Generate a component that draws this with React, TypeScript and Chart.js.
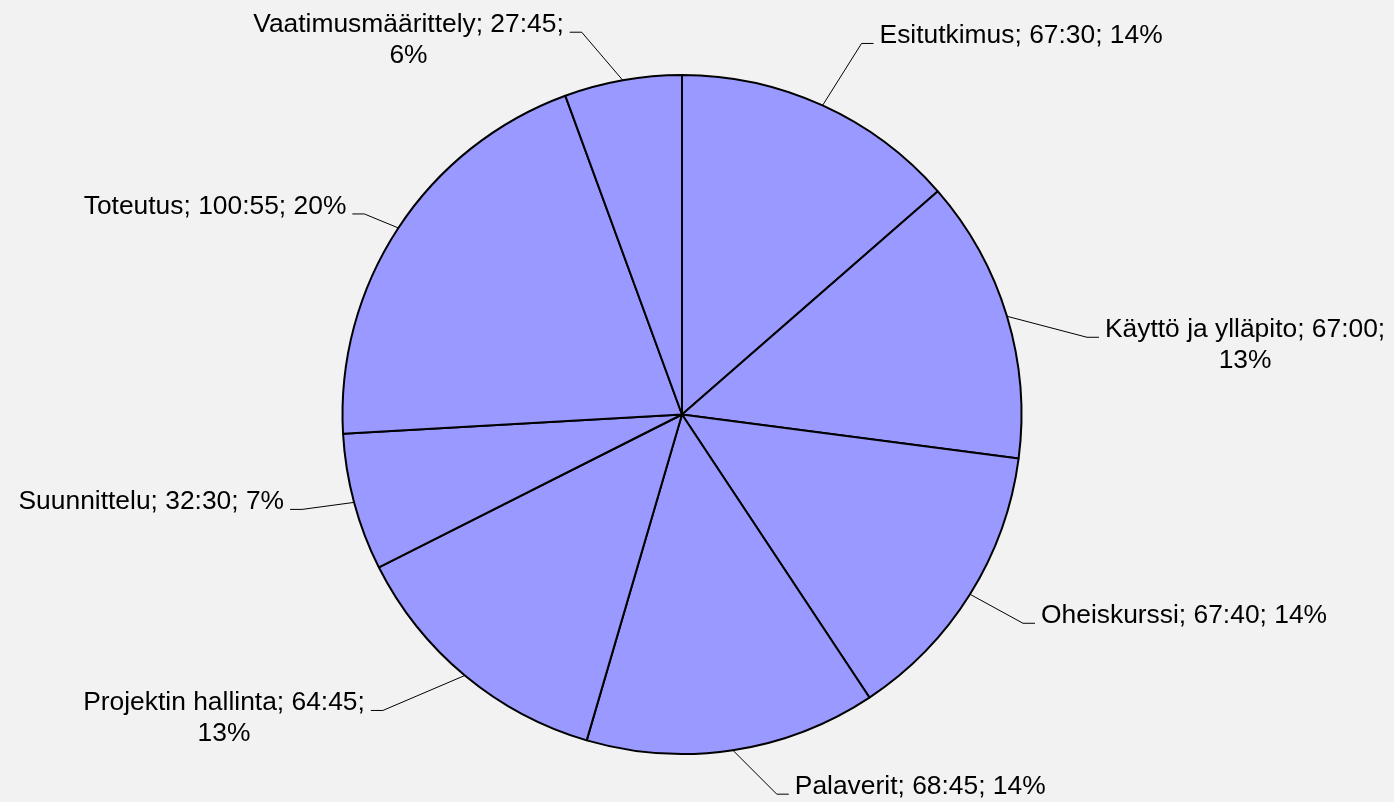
import React, { useEffect, useRef } from "react";
import { Chart, registerables } from "chart.js";

Chart.register(...registerables);

const categories = [
  "Esitutkimus",
  "Käyttö ja ylläpito",
  "Oheiskurssi",
  "Palaverit",
  "Projektin hallinta",
  "Suunnittelu",
  "Toteutus",
  "Vaatimusmäärittely",
];

// time spent, in minutes (h:mm shown in labels)
const minutesSpent = [4050, 4020, 4060, 4125, 3885, 1950, 6055, 1665];

// leader-line elbow offsets from the slice edge (label layout only)
const labelOffsets = [
  [39, -62],
  [80, 21],
  [53, 29],
  [44, 44],
  [-82, 35],
  [-52, 7],
  [-34, -14],
  [-41, -48],
];

const FONT = '26.4px "Liberation Sans", Arial, sans-serif';
const LINE_H = 31;
const MAX_LABEL_W = 322;

function fmtTime(m: number) {
  const h = Math.floor(m / 60);
  const mm = m % 60;
  return `${h}:${mm < 10 ? "0" : ""}${mm}`;
}

function wrap(ctx: CanvasRenderingContext2D, text: string, maxW: number) {
  const words = text.split(" ");
  const lines: string[] = [];
  let cur = "";
  for (const w of words) {
    const t = cur ? cur + " " + w : w;
    if (cur && ctx.measureText(t).width > maxW) {
      lines.push(cur);
      cur = w;
    } else cur = t;
  }
  if (cur) lines.push(cur);
  return lines;
}

const labelPlugin = {
  id: "pieLabels",
  afterDraw(chart: any) {
    const ctx: CanvasRenderingContext2D = chart.ctx;
    const meta = chart.getDatasetMeta(0);
    const data: number[] = chart.data.datasets[0].data;
    const total = data.reduce((a, b) => a + b, 0);
    ctx.save();
    ctx.font = FONT;
    ctx.fillStyle = "#000";
    ctx.strokeStyle = "#000";
    ctx.lineWidth = 1;
    ctx.textBaseline = "alphabetic";
    meta.data.forEach((arc: any, i: number) => {
      const p = arc.getProps(["x", "y", "startAngle", "endAngle", "outerRadius"], true);
      const mid = (p.startAngle + p.endAngle) / 2;
      const ex = p.x + Math.cos(mid) * p.outerRadius;
      const ey = p.y + Math.sin(mid) * p.outerRadius;
      const off = labelOffsets[i];
      const bx = ex + off[0];
      const by = ey + off[1];
      const right = off[0] >= 0;
      const hx = right ? bx + 12 : bx - 12;
      ctx.beginPath();
      ctx.moveTo(ex, ey);
      ctx.lineTo(bx, by);
      ctx.lineTo(hx, by);
      ctx.stroke();
      const pct = Math.round((data[i] / total) * 100);
      const text = `${chart.data.labels[i]}; ${fmtTime(data[i])}; ${pct}%`;
      const lines = wrap(ctx, text, MAX_LABEL_W);
      const widths = lines.map((l) => ctx.measureText(l).width);
      const bw = Math.max(...widths);
      const left = right ? hx + 6 : hx - 6 - bw;
      lines.forEach((l, k) => {
        ctx.textAlign = "left";
        ctx.fillText(l, left + (bw - widths[k]) / 2, by + k * LINE_H);
      });
    });
    ctx.restore();
  },
};

export default function App() {
  const ref = useRef<HTMLCanvasElement | null>(null);
  useEffect(() => {
    if (!ref.current) return;
    const chart = new Chart(ref.current, {
      type: "pie",
      data: {
        labels: categories,
        datasets: [
          {
            data: minutesSpent,
            backgroundColor: "#9999FF",
            borderColor: "#000000",
            borderWidth: 2,
            hoverOffset: 0,
          },
        ],
      },
      options: {
        responsive: true,
        maintainAspectRatio: false,
        animation: false,
        radius: 339.5,
        layout: { padding: { left: 341, right: 371, top: 74, bottom: 47 } },
        plugins: {
          legend: { display: false },
          tooltip: { enabled: false },
        },
      } as any,
      plugins: [labelPlugin],
    });
    return () => chart.destroy();
  }, []);
  return (
    <div
      style={{
        position: "absolute",
        left: 0,
        top: 0,
        width: 1394,
        height: 802,
        background: "#F2F2F2",
      }}
    >
      <canvas ref={ref} style={{ width: 1394, height: 802 }} />
    </div>
  );
}
